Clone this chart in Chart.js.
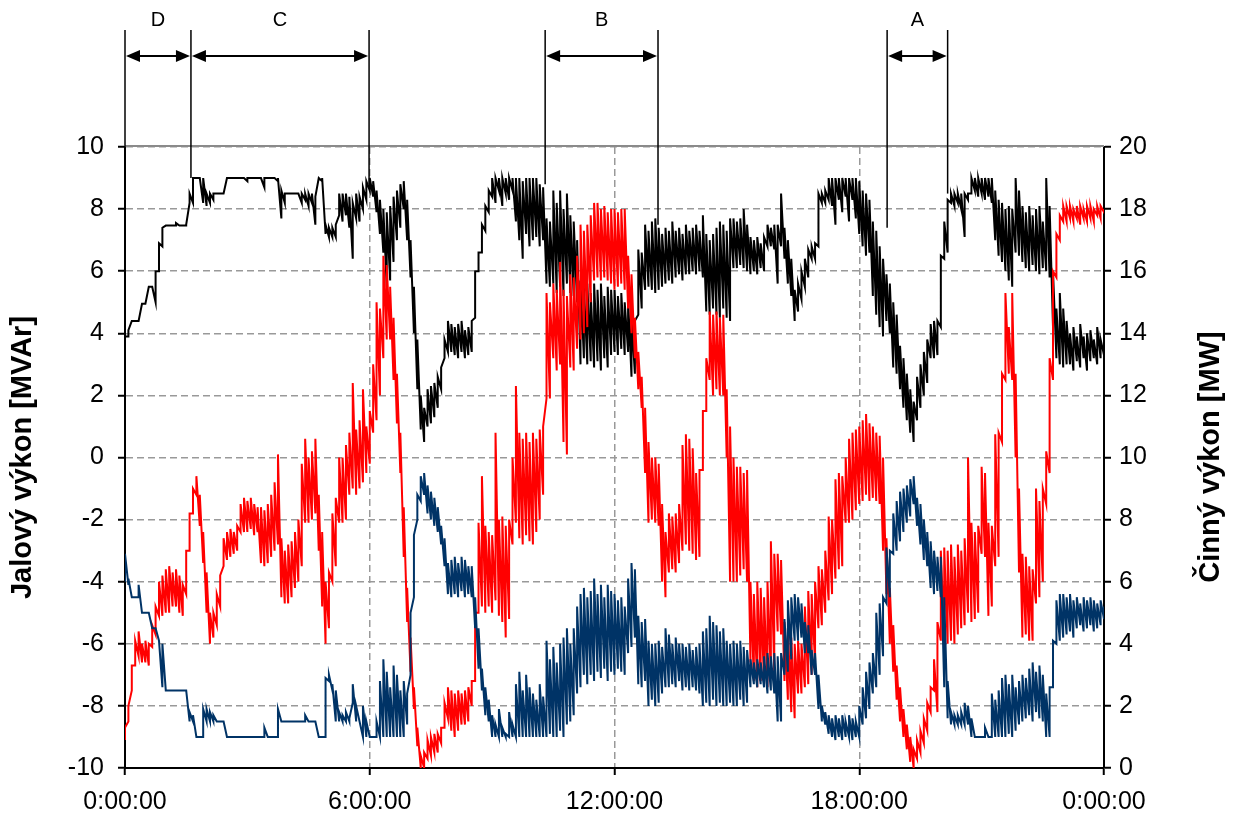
<!DOCTYPE html>
<html>
<head>
<meta charset="utf-8">
<script src="https://cdn.jsdelivr.net/npm/chart.js@4.4.1/dist/chart.umd.min.js"></script>
<style>
  html, body { margin: 0; padding: 0; background: #fff; }
</style>
</head>
<body>
<canvas id="chart" width="1236" height="820"></canvas>
<script>
// lowest and highest reading in every 5-minute slot, one row per hour
const STEP_MIN = 5
const hourLabels = ['0:00:00', '6:00:00', '12:00:00', '18:00:00', '0:00:00']

// Jalový výkon, black trace [MVAr]
const qUpperLow = [
  3.1, 3.9, 4.4, 4.4, 4.4, 4.95, 4.95, 5.5, 5.5, 5.0, 6.0, 6.8,
  7.47, 7.47, 7.47, 7.47, 7.47, 7.47, 7.47, 8.2, 8.2, 9.0, 9.0, 8.2,
  8.1, 8.2, 8.3, 8.5, 8.5, 8.5, 9.0, 9.0, 9.0, 9.0, 9.0, 9.0,
  8.9, 9.0, 9.0, 9.0, 9.0, 8.7, 9.0, 9.0, 9.0, 8.9, 7.7, 8.2,
  8.5, 8.5, 8.5, 8.5, 8.2, 8.3, 8.1, 8.2, 7.5, 9.0, 8.9, 7.2,
  7.1, 7.1, 7.1, 7.8, 7.6, 7.8, 7.4, 6.4, 7.7, 7.6, 8.0, 8.3,
  8.6, 8.4, 7.9, 7.2, 6.6, 5.5, 5.7, 6.3, 7.0, 7.4, 8.0, 7.0,
  5.8, 4.0, 2.2, 0.9, 0.5, 1.0, 1.1, 1.3, 1.6, 2.2, 3.2, 3.4,
  3.4, 3.3, 3.2, 3.4, 3.2, 3.3, 3.4, 4.5, 6.0, 6.6, 7.3, 7.9,
  8.4, 8.2, 8.6, 8.1, 8.5, 8.3, 8.6, 7.6, 7.0, 6.4, 7.2, 6.8,
  7.0, 7.1, 6.8, 7.0, 5.6, 5.5, 5.6, 5.3, 5.5, 5.2, 5.6, 5.3,
  5.2, 5.0, 3.0, 3.2, 3.0, 3.1, 2.9, 3.1, 2.8, 3.2, 2.9, 3.3,
  3.4, 3.3, 3.5, 3.3, 3.4, 2.6, 2.7, 4.6, 4.8, 5.4, 5.5, 5.4,
  5.3, 5.4, 5.5, 5.6, 5.7, 5.6, 5.8, 5.9, 5.7, 5.9, 5.9, 6.0,
  5.9, 6.0, 5.8, 4.7, 4.6, 4.8, 4.6, 4.5, 4.8, 4.5, 4.4, 6.1,
  6.1, 6.2, 6.1, 6.0, 5.9, 6.0, 5.9, 6.1, 6.0, 6.8, 6.8, 6.7,
  5.6, 6.8, 6.4, 5.6, 5.2, 4.4, 4.7, 5.1, 5.5, 5.8, 6.4, 6.4,
  6.8, 8.2, 8.2, 8.3, 8.1, 7.5, 8.3, 7.9, 8.4, 7.6, 8.3, 7.7,
  7.2, 6.8, 6.5, 6.6, 5.2, 4.6, 4.2, 3.9, 4.4, 4.0, 2.9, 2.7,
  2.2, 1.6, 1.2, 0.8, 0.5, 1.2, 1.6, 2.0, 2.4, 3.2, 3.2, 3.3,
  4.2, 6.4, 6.6, 8.2, 8.1, 8.2, 8.0, 7.1, 8.3, 8.5, 8.6, 8.4,
  8.5, 8.3, 8.4, 8.2, 7.0, 6.5, 6.3, 6.0, 5.7, 5.5, 6.6, 6.5,
  6.3, 6.1, 6.0, 6.2, 6.0, 5.9, 6.1, 6.0, 5.8, 4.2, 3.2, 3.0,
  2.9, 3.0, 3.0, 2.8, 3.1, 2.9, 3.2, 2.8, 3.1, 3.2, 3.0, 3.2,
  3.3,
]
const qUpperHigh = [
  3.9, 4.1, 4.4, 4.4, 4.4, 4.95, 4.95, 5.5, 5.5, 6.0, 6.9, 7.4,
  7.47, 7.47, 7.47, 7.55, 7.47, 7.47, 7.5, 8.5, 9.0, 9.0, 9.0, 9.0,
  8.5, 8.5, 8.5, 8.5, 8.5, 8.5, 9.0, 9.0, 9.0, 9.0, 9.0, 9.0,
  9.0, 9.0, 9.0, 9.0, 9.0, 9.0, 9.0, 9.0, 9.0, 9.0, 8.6, 8.5,
  8.5, 8.5, 8.5, 8.5, 8.5, 8.5, 8.5, 8.5, 8.4, 9.0, 9.0, 7.5,
  7.4, 7.4, 7.5, 8.5, 8.5, 8.5, 8.4, 8.2, 8.5, 8.4, 8.7, 8.9,
  9.0, 8.9, 8.6, 8.3, 8.0, 7.9, 8.1, 8.4, 8.6, 8.8, 8.9, 8.3,
  7.0, 5.5, 3.8, 2.0, 1.6, 2.2, 2.3, 2.4, 2.6, 2.9, 3.8, 4.4,
  4.3, 4.2, 4.3, 4.4, 4.1, 4.2, 4.4, 6.0, 6.6, 7.5, 8.1, 8.6,
  9.0, 9.0, 9.0, 9.0, 9.0, 9.0, 9.0, 9.0, 9.0, 8.9, 9.0, 9.0,
  9.0, 9.0, 8.8, 8.7, 7.7, 7.6, 8.6, 8.2, 8.6, 8.0, 8.5, 7.8,
  7.6, 7.0, 5.7, 5.5, 5.6, 5.3, 5.6, 5.4, 5.6, 5.2, 5.5, 5.4,
  5.4, 5.2, 5.3, 5.0, 5.1, 4.5, 4.4, 6.7, 6.6, 7.5, 7.3, 7.6,
  7.7, 7.4, 7.2, 7.4, 7.3, 7.6, 7.3, 7.4, 7.2, 7.5, 7.3, 7.4,
  7.5, 7.3, 7.8, 7.2, 7.0, 7.2, 7.4, 7.6, 7.5, 7.3, 7.7, 7.7,
  7.6, 7.7, 8.0, 7.5, 7.1, 7.0, 7.1, 6.9, 7.1, 7.5, 7.4, 7.5,
  7.5, 8.5, 7.4, 7.0, 6.4, 5.4, 5.6, 6.0, 6.4, 6.7, 6.8, 6.9,
  8.5, 8.5, 8.6, 9.0, 9.0, 9.0, 9.0, 9.0, 9.0, 9.0, 9.0, 9.0,
  8.9, 8.6, 8.5, 8.3, 7.6, 7.3, 6.8, 6.4, 5.9, 5.6, 5.0, 4.6,
  3.6, 3.2, 2.7, 2.2, 1.8, 2.6, 3.0, 3.4, 3.8, 4.3, 4.4, 4.4,
  6.5, 7.6, 8.3, 8.5, 8.5, 8.5, 8.5, 8.5, 8.5, 9.0, 9.0, 9.0,
  9.0, 9.0, 9.0, 9.0, 8.6, 8.3, 8.2, 8.0, 8.1, 8.0, 9.0, 8.6,
  8.1, 7.9, 8.1, 7.8, 8.0, 8.1, 7.6, 9.0, 8.1, 6.0, 4.8, 5.3,
  4.8, 4.4, 4.0, 4.2, 3.9, 4.3, 3.9, 4.0, 4.1, 3.8, 4.2, 3.8,
  3.5,
]

// Jalový výkon, dark blue trace [MVAr]
const qLowerLow = [
  -4.0, -4.1, -4.5, -4.5, -4.5, -5.0, -5.0, -5.0, -5.5, -5.5, -5.9, -7.4,
  -7.5, -7.5, -7.5, -7.5, -7.5, -7.5, -7.5, -8.5, -8.5, -9.0, -9.0, -9.0,
  -8.5, -8.5, -8.5, -8.5, -8.5, -8.5, -9.0, -9.0, -9.0, -9.0, -9.0, -9.0,
  -9.0, -9.0, -9.0, -9.0, -9.0, -9.0, -9.0, -9.0, -9.0, -9.0, -8.5, -8.5,
  -8.5, -8.5, -8.5, -8.5, -8.5, -8.5, -8.5, -8.5, -8.5, -9.0, -9.0, -9.0,
  -7.2, -7.5, -8.5, -8.5, -8.5, -8.5, -8.5, -7.9, -8.5, -8.5, -9.0, -9.0,
  -9.0, -9.0, -9.0, -9.0, -9.0, -9.0, -9.0, -9.0, -9.0, -9.0, -9.0, -8.6,
  -7.0, -4.5, -2.0, -1.4, -1.2, -1.8, -2.0, -2.2, -2.4, -2.8, -3.5, -4.4,
  -4.5, -4.4, -4.5, -4.3, -4.5, -4.4, -4.5, -5.5, -6.8, -7.5, -8.3, -8.5,
  -9.0, -9.0, -9.0, -9.0, -9.0, -9.0, -9.0, -9.0, -9.0, -9.0, -9.0, -9.0,
  -9.0, -9.0, -9.0, -9.0, -9.0, -8.9, -9.0, -9.0, -8.8, -9.0, -8.6, -8.5,
  -8.3, -7.6, -7.4, -7.0, -7.3, -7.0, -7.2, -6.9, -7.1, -6.8, -7.2, -6.9,
  -7.0, -6.8, -6.9, -7.0, -6.3, -6.1, -5.8, -7.3, -7.4, -7.2, -8.0, -7.8,
  -8.0, -7.9, -7.6, -7.4, -7.4, -7.3, -7.4, -7.2, -7.5, -7.4, -7.5, -7.4,
  -7.5, -7.6, -8.0, -7.9, -8.0, -7.8, -8.0, -7.9, -8.0, -8.0, -7.9, -8.0,
  -8.0, -7.8, -8.0, -7.9, -7.4, -7.3, -7.4, -7.3, -7.4, -7.6, -7.5, -7.6,
  -8.5, -8.5, -7.0, -6.9, -6.5, -5.9, -5.9, -5.8, -6.3, -6.3, -7.0, -7.0,
  -8.1, -8.5, -8.6, -8.9, -9.0, -9.1, -9.0, -9.1, -9.0, -9.0, -9.1, -9.0,
  -9.0, -8.6, -8.4, -8.1, -7.6, -7.4, -7.0, -6.4, -4.7, -4.5, -3.1, -3.0,
  -2.7, -2.4, -2.1, -1.9, -1.5, -2.2, -2.8, -3.3, -3.5, -4.2, -4.4, -4.3,
  -4.5, -7.4, -8.4, -8.6, -8.6, -8.6, -8.6, -8.6, -8.6, -9.0, -9.0, -9.0,
  -9.0, -9.0, -9.0, -9.0, -9.0, -9.0, -9.0, -9.0, -8.9, -9.0, -8.8, -8.6,
  -8.5, -8.4, -8.3, -8.5, -8.2, -8.4, -8.5, -9.0, -9.0, -7.4, -6.0, -5.9,
  -5.8, -5.7, -5.6, -5.8, -5.5, -5.4, -5.6, -5.5, -5.4, -5.6, -5.5, -5.4,
  -5.2,
]
const qLowerHigh = [
  -3.1, -3.9, -4.5, -4.5, -4.1, -5.0, -5.0, -5.0, -5.5, -5.5, -5.9, -6.0,
  -7.5, -7.5, -7.5, -7.5, -7.5, -7.5, -7.5, -8.2, -8.3, -9.0, -9.0, -8.1,
  -8.1, -8.2, -8.3, -8.5, -8.5, -8.5, -9.0, -9.0, -9.0, -9.0, -9.0, -9.0,
  -9.0, -9.0, -9.0, -9.0, -9.0, -8.7, -9.0, -9.0, -9.0, -8.1, -8.5, -8.5,
  -8.5, -8.5, -8.5, -8.5, -8.5, -8.3, -8.5, -8.5, -8.5, -9.0, -9.0, -7.1,
  -7.0, -7.3, -7.5, -8.2, -8.3, -8.2, -8.4, -7.3, -8.0, -8.5, -8.0, -8.5,
  -9.0, -9.0, -8.5, -7.2, -6.5, -6.9, -7.4, -6.7, -7.0, -7.5, -7.2, -7.6,
  -5.0, -2.5, -1.2, -0.6, -0.5, -0.9, -1.1, -1.3, -1.6, -2.2, -2.6, -3.4,
  -3.3, -3.2, -3.4, -3.2, -3.3, -3.5, -3.5, -4.5, -5.5, -6.8, -7.4, -7.8,
  -8.3, -8.6, -8.1, -8.7, -8.9, -8.2, -8.6, -7.3, -6.9, -7.5, -7.0, -7.4,
  -7.6, -7.8, -7.3, -7.7, -5.9, -6.5, -6.1, -6.6, -6.0, -5.8, -5.5, -6.0,
  -5.5, -4.8, -4.4, -4.2, -4.5, -4.3, -3.9, -4.4, -4.1, -4.5, -4.1, -4.3,
  -4.4, -4.6, -4.5, -4.8, -3.9, -3.4, -3.6, -5.1, -5.3, -5.2, -5.9, -6.0,
  -6.0, -5.9, -6.1, -5.5, -5.7, -6.0, -5.8, -6.0, -6.0, -6.1, -6.0, -6.2,
  -6.1, -6.0, -5.6, -5.5, -5.1, -5.3, -5.4, -5.6, -5.5, -5.9, -6.0, -5.9,
  -6.0, -5.9, -6.1, -6.2, -6.5, -6.6, -6.5, -6.6, -6.4, -6.3, -6.4, -6.3,
  -6.4, -6.3, -5.2, -4.6, -4.5, -4.4, -4.5, -4.7, -5.3, -5.4, -6.2, -6.3,
  -7.0, -8.0, -8.2, -8.3, -8.4, -8.3, -8.4, -8.3, -8.5, -8.3, -8.4, -8.5,
  -8.0, -7.4, -6.9, -6.6, -6.3, -5.0, -4.7, -4.5, -2.9, -3.0, -1.8, -1.4,
  -1.1, -1.0, -0.9, -0.7, -0.6, -1.3, -1.5, -2.0, -2.4, -2.7, -3.0, -3.2,
  -3.2, -4.5, -7.2, -8.2, -8.3, -8.3, -8.2, -7.9, -8.0, -8.4, -9.0, -9.0,
  -9.0, -8.7, -9.0, -7.6, -7.8, -7.5, -7.1, -7.0, -7.3, -7.0, -7.4, -7.2,
  -7.0, -7.1, -6.8, -6.6, -6.9, -6.7, -7.0, -7.6, -7.4, -5.9, -4.6, -4.4,
  -4.4, -4.5, -4.4, -4.6, -4.5, -4.7, -4.5, -4.6, -4.5, -4.6, -4.7, -4.6,
  -4.8,
]

// Činný výkon, red trace [MW]
const pActiveLow = [
  0.9, 1.5, 2.5, 3.3, 3.6, 3.4, 3.4, 3.3, 3.9, 4.3, 4.9, 4.9,
  5.0, 5.0, 5.2, 5.2, 5.0, 4.9, 5.6, 7.0, 8.2, 8.8, 7.8, 6.6,
  5.0, 4.0, 4.2, 4.6, 5.2, 6.5, 6.7, 6.8, 6.9, 7.0, 7.6, 7.6,
  7.6, 7.7, 7.5, 7.6, 6.6, 6.5, 6.6, 6.8, 7.0, 7.2, 5.5, 5.3,
  5.3, 5.5, 5.8, 6.0, 6.5, 7.9, 7.9, 8.0, 8.2, 7.0, 5.2, 4.0,
  4.5, 6.0, 6.5, 7.9, 7.9, 8.0, 8.8, 9.0, 8.8, 9.0, 9.2, 9.5,
  9.8, 10.8, 11.2, 12.0, 13.2, 13.8, 13.8, 12.5, 11.1, 9.5, 6.8, 4.7,
  3.1, 1.9, 0.7, 0.0, 0.0, 0.3, 0.4, 0.5, 0.5, 0.8, 1.3, 1.6,
  1.2, 1.0, 1.2, 1.4, 1.4, 1.5, 2.0, 2.8, 5.0, 5.2, 5.0, 5.2,
  5.0, 5.4, 4.9, 4.7, 4.2, 4.8, 7.2, 7.9, 7.4, 7.2, 7.5, 7.3,
  7.2, 7.6, 8.0, 8.8, 11.9, 11.9, 13.2, 12.8, 13.0, 10.5, 10.1, 12.9,
  12.8, 13.5, 13.8, 14.0, 14.2, 15.0, 15.7, 15.8, 15.7, 15.8, 15.7, 15.6,
  15.4, 15.5, 15.6, 15.4, 14.8, 14.0, 13.2, 12.2, 11.6, 9.5, 7.9, 8.0,
  7.9, 7.8, 6.0, 5.5, 6.3, 6.4, 6.3, 6.6, 7.0, 7.2, 7.0, 6.9,
  6.7, 6.8, 9.6, 11.5, 12.5, 12.0, 12.2, 12.0, 12.0, 10.0, 6.0, 6.0,
  6.0, 6.2, 6.4, 6.0, 3.4, 2.8, 2.6, 2.8, 2.7, 2.6, 3.0, 3.1,
  4.4, 4.3, 2.8, 2.2, 1.8, 1.6, 2.4, 2.4, 2.6, 2.7, 3.0, 3.4,
  4.5, 4.6, 5.0, 5.4, 5.6, 6.1, 6.4, 6.5, 7.9, 7.9, 8.0, 8.3,
  8.5, 8.6, 8.8, 8.6, 8.7, 8.6, 8.5, 7.0, 5.6, 4.0, 3.1, 2.2,
  1.5, 1.0, 0.6, 0.2, 0.0, 0.3, 0.5, 0.8, 1.2, 1.8, 2.5, 1.8,
  4.1, 4.2, 4.0, 4.1, 4.0, 4.3, 4.5, 4.6, 5.0, 4.7, 4.8, 5.0,
  6.9, 6.8, 4.9, 5.2, 6.5, 6.8, 10.5, 12.5, 12.7, 12.5, 10.0, 6.3,
  4.2, 4.3, 4.1, 4.1, 5.3, 5.5, 6.0, 8.5, 9.5, 12.5, 15.8, 17.0,
  17.6, 17.6, 17.7, 17.6, 17.7, 17.5, 17.7, 17.6, 17.7, 17.6, 17.8, 17.7,
  17.9,
]
const pActiveHigh = [
  1.3, 2.0, 3.3, 4.1, 4.4, 4.0, 4.1, 4.0, 4.6, 5.2, 6.0, 6.2,
  6.4, 6.5, 6.3, 6.4, 6.2, 5.9, 7.0, 8.2, 9.0, 9.4, 8.8, 7.6,
  6.3, 5.0, 5.0, 5.6, 6.2, 7.4, 7.6, 7.7, 7.6, 7.8, 8.5, 8.7,
  8.6, 8.7, 8.5, 8.4, 8.4, 8.3, 8.5, 8.8, 9.2, 10.1, 7.4, 7.0,
  7.2, 7.3, 7.6, 8.0, 9.8, 10.6, 10.0, 10.2, 10.6, 8.8, 7.6, 6.0,
  6.3, 8.2, 8.7, 10.0, 10.0, 10.4, 10.8, 12.4, 10.9, 11.2, 12.2, 11.0,
  11.5, 13.0, 15.0, 14.8, 16.5, 16.2, 15.5, 14.5, 12.7, 10.8, 8.4, 5.8,
  4.2, 2.6, 1.3, 0.4, 0.5, 0.9, 1.0, 1.1, 1.1, 1.3, 2.1, 2.6,
  2.5, 2.4, 2.5, 2.4, 2.5, 2.6, 2.8, 5.0, 7.9, 9.4, 7.8, 7.6,
  7.5, 10.8, 8.0, 8.1, 7.8, 8.0, 10.0, 12.3, 10.8, 10.6, 10.8, 10.5,
  10.8, 10.6, 10.9, 11.0, 15.3, 15.0, 15.6, 15.4, 16.3, 15.4, 15.2, 15.9,
  15.8, 16.5, 17.5, 17.3, 17.5, 17.8, 18.2, 18.2, 18.0, 18.1, 17.9, 18.0,
  18.0, 17.9, 18.0, 18.0, 16.5, 15.9, 14.5, 13.4, 12.6, 11.6, 10.5, 10.0,
  10.0, 9.8, 8.5, 7.6, 8.2, 8.1, 8.2, 8.5, 10.4, 10.75, 10.6, 10.3,
  9.5, 9.6, 11.5, 13.2, 14.7, 14.6, 14.7, 14.5, 14.6, 12.2, 11.0, 10.0,
  9.7, 9.7, 9.5, 9.6, 6.0, 5.6, 6.0, 5.8, 5.5, 6.0, 7.3, 6.9,
  6.9, 6.7, 4.7, 4.5, 4.2, 4.0, 4.1, 4.0, 5.2, 5.7, 5.6, 6.0,
  6.5, 6.4, 7.0, 8.1, 8.0, 9.3, 9.5, 9.4, 10.0, 10.6, 10.8, 10.9,
  11.0, 11.2, 11.4, 11.1, 11.0, 10.8, 10.7, 10.0, 7.4, 5.8, 4.6, 3.3,
  2.6, 1.9, 1.4, 1.0, 0.6, 0.9, 1.2, 1.6, 2.1, 2.6, 3.5, 4.7,
  7.0, 7.1, 7.0, 7.2, 6.8, 7.2, 7.0, 7.4, 10.0, 7.9, 7.6, 7.8,
  9.7, 9.5, 7.9, 7.8, 10.75, 10.8, 12.7, 15.3, 14.2, 15.3, 12.7, 9.0,
  6.9, 6.8, 6.5, 6.4, 9.0, 8.6, 9.0, 10.2, 13.2, 16.0, 17.2, 17.8,
  18.1, 18.1, 18.1, 18.0, 18.1, 18.1, 18.0, 18.1, 18.1, 18.0, 18.1, 18.1,
  18.0,
]

// marked intervals above the plot (minutes) and where each marker line stops (MVAr)
const markerMinutes = [0, 97, 359, 618, 784, 1121, 1210]
const markerStops = [10, 9.0, 8.8, 8.8, 7.5, 7.4, 8.5]
const spanLabels = ['D', 'C', 'B', 'A']
const spanFrom = [0, 97, 618, 1121]
const spanTo = [97, 359, 784, 1210]

const minutes = qUpperLow.map((_, i) => i * STEP_MIN)
// each slot is drawn as its low reading followed by its high reading
const band = (low, high) =>
  low.flatMap((lo, i) => [
    { x: minutes[i], y: lo },
    { x: minutes[i], y: high[i] },
  ])

const FONT = '"Liberation Sans", Arial, sans-serif'
Chart.defaults.font.family = FONT
Chart.defaults.color = '#000'

const gridLines = {
  color: '#999',
  lineWidth: 1.5,
  tickColor: '#000',
  tickWidth: 2,
  tickLength: 7,
}

const spans = {
  id: 'spans',
  beforeDatasetsDraw(chart) {
    const { ctx, chartArea, scales: { x, y } } = chart
    ctx.save()
    // top edge of the plot area
    ctx.strokeStyle = '#8a8a8a'
    ctx.lineWidth = 2
    ctx.beginPath()
    ctx.moveTo(chartArea.left, chartArea.top - 1)
    ctx.lineTo(chartArea.right, chartArea.top - 1)
    ctx.stroke()

    ctx.strokeStyle = '#000'
    ctx.lineWidth = 1.5
    markerMinutes.forEach((m, i) => {
      const px = x.getPixelForValue(m)
      ctx.beginPath()
      ctx.moveTo(px, 30)
      ctx.lineTo(px, y.getPixelForValue(markerStops[i]))
      ctx.stroke()
    })
    ctx.restore()
  },
  afterDraw(chart) {
    const { ctx, scales: { x } } = chart
    const arrowY = 56
    ctx.save()
    ctx.strokeStyle = '#000'
    ctx.fillStyle = '#000'
    ctx.lineWidth = 2
    spanLabels.forEach((label, i) => {
      const x1 = x.getPixelForValue(spanFrom[i])
      const x2 = x.getPixelForValue(spanTo[i])
      ctx.beginPath()
      ctx.moveTo(x1 + 4, arrowY)
      ctx.lineTo(x2 - 4, arrowY)
      ctx.stroke()
      ctx.beginPath()
      ctx.moveTo(x1 + 1, arrowY)
      ctx.lineTo(x1 + 15, arrowY - 6)
      ctx.lineTo(x1 + 15, arrowY + 6)
      ctx.closePath()
      ctx.fill()
      ctx.beginPath()
      ctx.moveTo(x2 - 1, arrowY)
      ctx.lineTo(x2 - 15, arrowY - 6)
      ctx.lineTo(x2 - 15, arrowY + 6)
      ctx.closePath()
      ctx.fill()
      ctx.font = '20px ' + FONT
      ctx.textAlign = 'center'
      ctx.textBaseline = 'middle'
      ctx.fillText(label, (x1 + x2) / 2, 20)
    })

    // secondary axis title, read bottom to top like the primary one
    ctx.font = 'bold 29px ' + FONT
    ctx.translate(1211, 457)
    ctx.rotate(-Math.PI / 2)
    ctx.textAlign = 'center'
    ctx.textBaseline = 'middle'
    ctx.fillText('Činný výkon [MW]', 0, 0)
    ctx.restore()
  },
}

new Chart(document.getElementById('chart'), {
  type: 'line',
  data: {
    datasets: [
      { data: band(qLowerLow, qLowerHigh), borderColor: '#003366', yAxisID: 'y' },
      { data: band(pActiveLow, pActiveHigh), borderColor: '#ff0000', yAxisID: 'y1' },
      { data: band(qUpperLow, qUpperHigh), borderColor: '#000000', yAxisID: 'y' },
    ],
  },
  options: {
    responsive: false,
    animation: false,
    devicePixelRatio: 1,
    events: [],
    layout: { padding: { top: 147 } },
    elements: {
      point: { radius: 0 },
      line: { borderWidth: 2, tension: 0 },
    },
    plugins: {
      legend: { display: false },
      tooltip: { enabled: false },
    },
    scales: {
      x: {
        type: 'linear',
        min: 0,
        max: 1440,
        afterFit: (s) => { s.height = 52 },
        ticks: {
          stepSize: 360,
          maxRotation: 0,
          padding: 12,
          font: { size: 25 },
          callback: (v) => hourLabels[v / 360],
        },
        grid: gridLines,
        border: { color: '#000', width: 2, dash: [7, 4] },
      },
      y: {
        position: 'left',
        min: -10,
        max: 10,
        afterFit: (s) => { s.width = 125 },
        ticks: { stepSize: 2, padding: 14, font: { size: 25 } },
        title: {
          display: true,
          text: 'Jalový výkon [MVAr]',
          font: { size: 29, weight: 'bold' },
          padding: { top: 6, bottom: 0 },
        },
        grid: gridLines,
        border: { color: '#000', width: 2, dash: [7, 4] },
      },
      y1: {
        position: 'right',
        min: 0,
        max: 20,
        afterFit: (s) => { s.width = 132 },
        ticks: { stepSize: 2, padding: 8, font: { size: 25 } },
        grid: { ...gridLines, drawOnChartArea: false },
        border: { color: '#000', width: 2 },
      },
    },
  },
  plugins: [spans],
})
</script>
</body>
</html>
